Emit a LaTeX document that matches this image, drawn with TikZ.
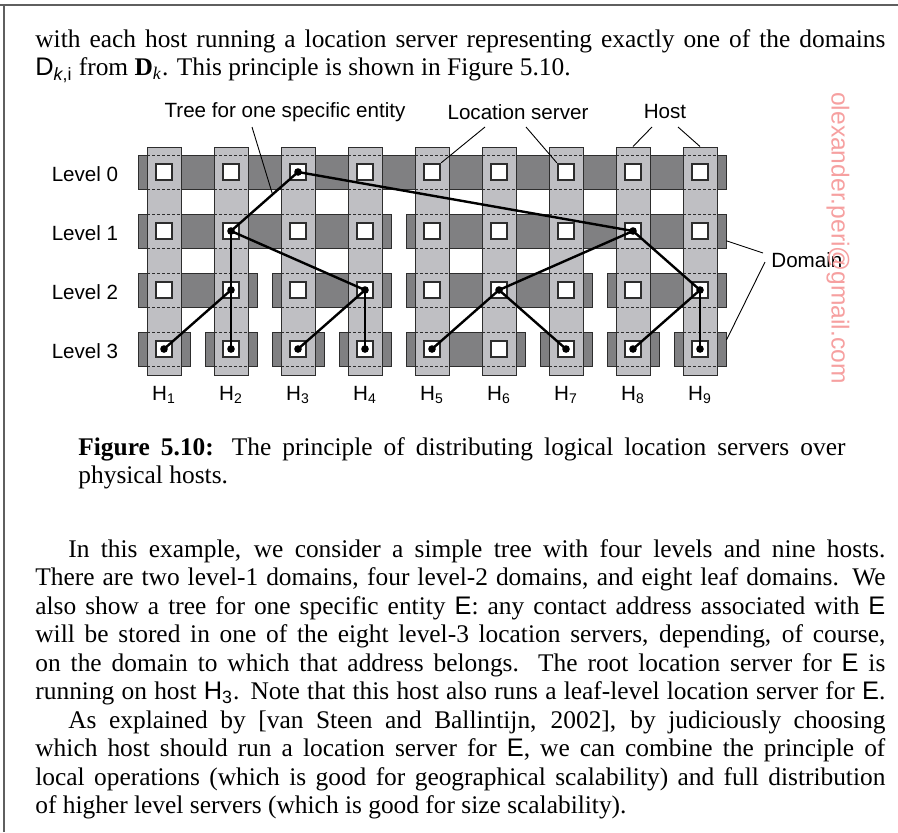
\documentclass[tikz,border=0pt]{standalone}
\usepackage{fontspec}
\setmainfont{Liberation Serif}
\setsansfont{Liberation Sans}
\usetikzlibrary{positioning, calc}

\definecolor{banddark}{RGB}{128,128,130}
\definecolor{hostlight}{RGB}{191,191,195}
\definecolor{edgegray}{RGB}{45,45,45}
\definecolor{framegray}{RGB}{95,95,95}
\definecolor{wmark}{RGB}{246,160,160}

\newcommand{\fullline}[1]{\hbox to 425pt{#1}}
\newcommand{\capline}[1]{\hbox to 383.5pt{#1}}

\begin{document}
\begin{tikzpicture}[
        x=0.5pt, y=-0.5pt,
        band/.style={rectangle, fill=banddark, draw=edgegray, line width=0.5pt, minimum height=17pt, inner sep=0pt},
        hostcol/.style={rectangle, fill=hostlight, draw=edgegray, line width=0.5pt, minimum width=17pt, minimum height=114pt, inner sep=0pt},
        bandedge/.style={draw=edgegray, dash pattern=on 1.6pt off 0.9pt, line width=0.5pt},
        server/.style={rectangle, fill=white, draw=edgegray, line width=1pt, minimum size=8.2pt, inner sep=0pt},
        tree/.style={line width=1.2pt, black},
        callout/.style={line width=0.45pt, black},
        figtext/.style={font=\sffamily\fontsize{10.3}{12}\selectfont, inner sep=0pt},
        bodytext/.style={anchor=north west, inner sep=0pt, font=\fontsize{12.7}{14.25}\selectfont}
    ]
    \useasboundingbox (0,0) rectangle (898,832);

    % page frame
    \draw[framegray, line width=0.75pt] (0,5) -- (898,5) (4,5) -- (4,832);

    % text above the figure
    \node[bodytext] (intro) at (35,29) {\vbox{%
        \fullline{with each host running a location server representing exactly one of the domains}
        \hbox{\textsf{D}\textsubscript{\textsf{\textit{k},i}} from \textbf{D}\textsubscript{\textit{k}}. This principle is shown in Figure 5.10.}}};

    % domains
    \foreach \lev/\a/\b in {0/1/9, 1/1/4, 1/5/9, 2/1/2, 2/3/4, 2/5/7, 2/8/9,
                            3/1/1, 3/2/2, 3/3/3, 3/4/4, 3/5/6, 3/7/7, 3/8/8, 3/9/9}{
        \pgfmathsetmacro{\bx}{164+67*((\a+\b)/2-1)}
        \pgfmathsetmacro{\by}{172+59*\lev}
        \pgfmathsetmacro{\bw}{33.5*(\b-\a)+26}
        \node[band, minimum width=\bw pt] (d\lev-\a) at (\bx,\by) {};
    }

    % hosts
    \foreach \h in {1,...,9}{
        \pgfmathsetmacro{\hx}{164+67*(\h-1)}
        \node[hostcol] (h\h) at (\hx,261) {};
        \node[figtext] (hl\h) at (\hx,395) {H\textsubscript{\scriptsize\h}};
    }

    % location servers
    \foreach \h in {1,...,9}{
        \foreach \lev in {0,...,3}{
            \pgfmathsetmacro{\hx}{164+67*(\h-1)}
            \pgfmathsetmacro{\ly}{172+59*\lev}
            \draw[bandedge] (\hx-17,\ly-17) -- (\hx+17,\ly-17) (\hx-17,\ly+17) -- (\hx+17,\ly+17);
            \node[server] (s\lev-\h) at (\hx,\ly) {};
        }
    }

    % level labels
    \foreach \lev in {0,...,3}{
        \pgfmathsetmacro{\ly}{174+59*\lev}
        \node[figtext] (lv\lev) at (85,\ly) {Level \lev};
    }

    % tree for entity E
    \foreach \p/\c in {s0-3/s1-2, s0-3/s1-8, s1-2/s2-2, s1-2/s2-4, s1-8/s2-6, s1-8/s2-9,
                       s2-2/s3-1, s2-2/s3-2, s2-4/s3-3, s2-4/s3-4, s2-6/s3-5, s2-6/s3-7,
                       s2-9/s3-8, s2-9/s3-9}
        \draw[tree] (\p.center) -- (\c.center);
    \foreach \n in {s0-3, s1-2, s1-8, s2-2, s2-4, s2-6, s2-9,
                    s3-1, s3-2, s3-3, s3-4, s3-5, s3-7, s3-8, s3-9}
        \fill[black] (\n.center) circle (1.9pt);

    % labels and callouts
    \node[figtext] (treelbl) at (285,112) {Tree for one specific entity};
    \node[figtext] (lslbl) at (518,112) {Location server};
    \node[figtext] (hostlbl) at (665,112) {Host};
    \node[figtext, anchor=west] (domlbl) at (771,260) {Domain};

    \coordinate (treetail) at (252,127);
    \coordinate (lstail1) at (485,127);
    \coordinate (lstail2) at (526,127);
    \coordinate (hosttail1) at (652,127);
    \coordinate (hosttail2) at (678,127);
    \coordinate (domtail1) at (763,253);
    \coordinate (domtail2) at (765,262);

    \draw[callout] (treetail) -- ($(s1-2)!0.62!(s0-3)$);
    \draw[callout] (lstail1) -- (s0-5.north east);
    \draw[callout] (lstail2) -- (s0-7.north west);
    \draw[callout] (hosttail1) -- (h8.north);
    \draw[callout] (hosttail2) -- (h9.north);
    \draw[callout] (domtail1) -- ($(d1-5.north east)!0.78!(d1-5.south east)$);
    \draw[callout] (domtail2) -- ($(d3-9.north east)!0.24!(d3-9.south east)$);

    % watermark
    \node[rotate=-90, text=wmark, font=\sffamily\fontsize{12.3}{14}\selectfont, inner sep=0pt] (wm) at (838,238) {olexander.peri@gmail.com};

    % caption
    \node[bodytext] (caption) at (78,437) {\vbox{%
        \capline{\textbf{Figure 5.10:} The principle of distributing logical location servers over}
        \hbox{physical hosts.}}};

    % text below the figure
    \node[bodytext] (para) at (35,539) {\vbox{%
        \fullline{\hskip16.5pt In this example, we consider a simple tree with four levels and nine hosts.}
        \fullline{There are two level-1 domains, four level-2 domains, and eight leaf domains. We}
        \fullline{also show a tree for one specific entity \textsf{E}: any contact address associated with \textsf{E}}
        \fullline{will be stored in one of the eight level-3 location servers, depending, of course,}
        \fullline{on the domain to which that address belongs. The root location server for \textsf{E} is}
        \fullline{running on host \textsf{H\textsubscript{3}}. Note that this host also runs a leaf-level location server for \textsf{E}.}
        \fullline{\hskip16.5pt As explained by [van Steen and Ballintijn, 2002], by judiciously choosing}
        \fullline{which host should run a location server for \textsf{E}, we can combine the principle of}
        \fullline{local operations (which is good for geographical scalability) and full distribution}
        \hbox{of higher level servers (which is good for size scalability).}}};
\end{tikzpicture}
\end{document}
